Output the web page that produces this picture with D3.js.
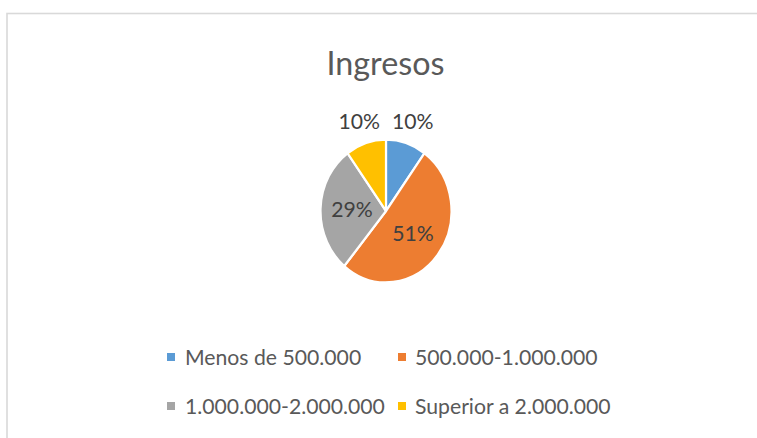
<!DOCTYPE html>
<html>
<head>
<meta charset="utf-8">
<script src="https://cdn.jsdelivr.net/npm/d3@7"></script>
<style>
  html, body { margin: 0; padding: 0; background: #fff; }
  svg { display: block; }
  text { font-family: Lato, "Open Sans", sans-serif; }
</style>
</head>
<body>
<svg id="chart" width="757" height="438"></svg>
<script>
// ---- data ----
const title = "Ingresos";
const categories = ["Menos de 500.000", "500.000-1.000.000", "1.000.000-2.000.000", "Superior a 2.000.000"];
const values = [10, 51, 29, 10];
const labels = ["10%", "51%", "29%", "10%"];
const colors = ["#5B9BD5", "#ED7D31", "#A5A5A5", "#FFC000"];

// ---- layout ----
const W = 757, H = 438;
const cx = 386, cy = 211, rx = 65.5, ry = 71.5;
const svg = d3.select("#chart");

svg.append("rect").attr("x", 0).attr("y", 0).attr("width", W).attr("height", H).attr("fill", "#fff");
// chart area border (only top & left visible)
svg.append("rect").attr("x", 7).attr("y", 13.5).attr("width", 900).attr("height", 600)
  .attr("fill", "none").attr("stroke", "#D9D9D9").attr("stroke-width", 1.6);

// font scale factor: fit Lato to Calibri-like metrics
const probe = svg.append("text").attr("font-size", 100).text("Menos de 500.000");
const k = (7.565 * 100) / probe.node().getComputedTextLength();
probe.remove();
const fs = s => s * k;

// title
svg.append("text")
  .attr("x", 385.5).attr("y", 74.5)
  .attr("text-anchor", "middle")
  .attr("font-size", fs(35.5))
  .attr("fill", "#595959")
  .text(title);

// pie
const pie = d3.pie().sort(null).value(d => d)(values);
const arc = d3.arc().innerRadius(0).outerRadius(rx);
const g = svg.append("g").attr("transform", `translate(${cx},${cy}) scale(1,${ry / rx})`);
g.selectAll("path").data(pie).join("path")
  .attr("d", arc)
  .attr("fill", (d, i) => colors[i])
  .attr("stroke", "#fff")
  .attr("stroke-width", 2.2)
  .attr("stroke-linejoin", "round");

// data labels
const inside = [false, true, true, false];
const labelPos = (d, i) => {
  const a = (d.startAngle + d.endAngle) / 2;
  const f = inside[i] ? 0.52 : 1.32;
  return [cx + Math.sin(a) * rx * f, cy - Math.cos(a) * ry * f];
};
svg.selectAll("text.lbl").data(pie).join("text")
  .attr("class", "lbl")
  .attr("x", (d, i) => labelPos(d, i)[0])
  .attr("y", (d, i) => labelPos(d, i)[1])
  .attr("dy", "0.36em")
  .attr("text-anchor", "middle")
  .attr("font-size", fs(23.3))
  .attr("fill", "#404040")
  .text((d, i) => labels[i]);

// legend
const colX = [167, 398];
const textX = [185, 415];
const rowY = [357, 406];
const leg = svg.append("g");
categories.forEach((c, i) => {
  const col = i % 2, row = Math.floor(i / 2);
  leg.append("rect")
    .attr("x", colX[col]).attr("y", rowY[row] - 4)
    .attr("width", 8).attr("height", 8)
    .attr("fill", colors[i]);
  leg.append("text")
    .attr("x", textX[col]).attr("y", rowY[row])
    .attr("dy", "0.36em")
    .attr("font-size", fs(23.3))
    .attr("fill", "#595959")
    .text(c);
});
</script>
</body>
</html>
